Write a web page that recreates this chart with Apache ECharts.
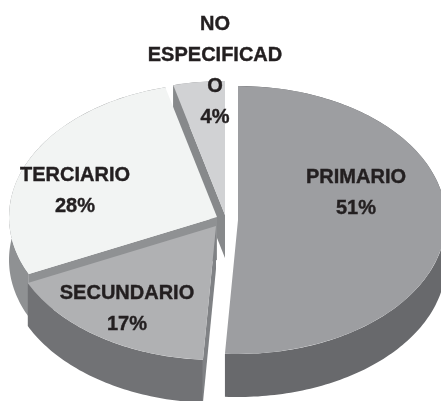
<!DOCTYPE html>
<html>
<head>
<meta charset="utf-8">
<style>
  html, body { margin: 0; padding: 0; background: #fff; }
  #chart { width: 441px; height: 401px; }
</style>
<script src="https://cdn.jsdelivr.net/npm/echarts@6/dist/echarts.min.js"></script>
</head>
<body>
<div id="chart"></div>
<script>
// datos, en sentido horario desde arriba
var categories = ['PRIMARIO', 'SECUNDARIO', 'TERCIARIO', 'NO\nESPECIFICAD\nO'];
var percents = [51, 17, 28, 4];

// colores y posiciones de cada porcion
var faceColors = ['#9d9ea1', '#b0b1b3', '#f2f4f3', '#d1d2d4'];
var sideColors = ['#68696c', '#717275', '#8f9193', '#87898b'];
var edgeColors = ['#68696c', '#808285', '#8f9193', '#87898b'];
var centers = [[238, 220], [216, 226], [217, 217], [225, 215]];
var labelCenters = [[356, 193], [127, 309], [75, 191], [215, 71]];

var RX = 208, RY = 134, DEPTH = 43;
var total = percents.reduce(function (a, b) { return a + b; }, 0);

// angulo acumulado de inicio de cada porcion
var seriesData = [];
var acc = 0;
percents.forEach(function (v, i) {
  seriesData.push([i, v, acc]);
  acc += v;
});
// se pinta de atras hacia adelante
seriesData.reverse();

function pt(c, a, dy) {
  return [c[0] + RX * Math.sin(a), c[1] - RY * Math.cos(a) + (dy || 0)];
}

function sideWall(c, a0, a1, color) {
  var top = [], bottom = [];
  var n = Math.ceil(Math.abs(a1 - a0) / 0.02);
  for (var k = 0; k <= n; k++) {
    var a = a0 + (a1 - a0) * k / n;
    top.push(pt(c, a));
    bottom.unshift(pt(c, a, DEPTH));
  }
  return { type: 'polygon', shape: { points: top.concat(bottom) }, style: { fill: color } };
}

function edgeWall(c, a, color) {
  var p = pt(c, a);
  var points = [c, p, [p[0], p[1] + DEPTH], [c[0], c[1] + DEPTH]];
  return { type: 'polygon', shape: { points: points }, style: { fill: color } };
}

function renderSlice(params, api) {
  var i = api.value(0);
  var a0 = api.value(2) / total * Math.PI * 2;
  var a1 = (api.value(2) + api.value(1)) / total * Math.PI * 2;
  var c = centers[i];
  var children = [sideWall(c, a0, a1, sideColors[i])];

  // solo las caras radiales que miran al frente
  if (Math.sin(a0) < -1e-6) children.push(edgeWall(c, a0, edgeColors[i]));
  if (Math.sin(a1) > 1e-6) children.push(edgeWall(c, a1, edgeColors[i]));

  children.push({
    type: 'sector',
    x: c[0],
    y: c[1],
    scaleY: RY / RX,
    shape: {
      cx: 0, cy: 0, r0: 0, r: RX,
      startAngle: a0 - Math.PI / 2,
      endAngle: a1 - Math.PI / 2,
      clockwise: true
    },
    style: { fill: faceColors[i] }
  });

  children.push({
    type: 'text',
    z2: 10,
    x: labelCenters[i][0],
    y: labelCenters[i][1],
    style: {
      text: categories[i] + '\n' + api.value(1) + '%',
      fill: '#231f20',
      stroke: '#231f20',
      lineWidth: 0.4,
      font: 'bold 20px "Liberation Sans", Arial, sans-serif',
      lineHeight: 31,
      align: 'center',
      verticalAlign: 'middle'
    }
  });

  return { type: 'group', children: children };
}

var chart = echarts.init(document.getElementById('chart'));
chart.setOption({
  backgroundColor: '#fff',
  animation: false,
  series: [{
    type: 'custom',
    coordinateSystem: 'none',
    renderItem: renderSlice,
    data: seriesData,
    silent: true
  }]
});
</script>
</body>
</html>
